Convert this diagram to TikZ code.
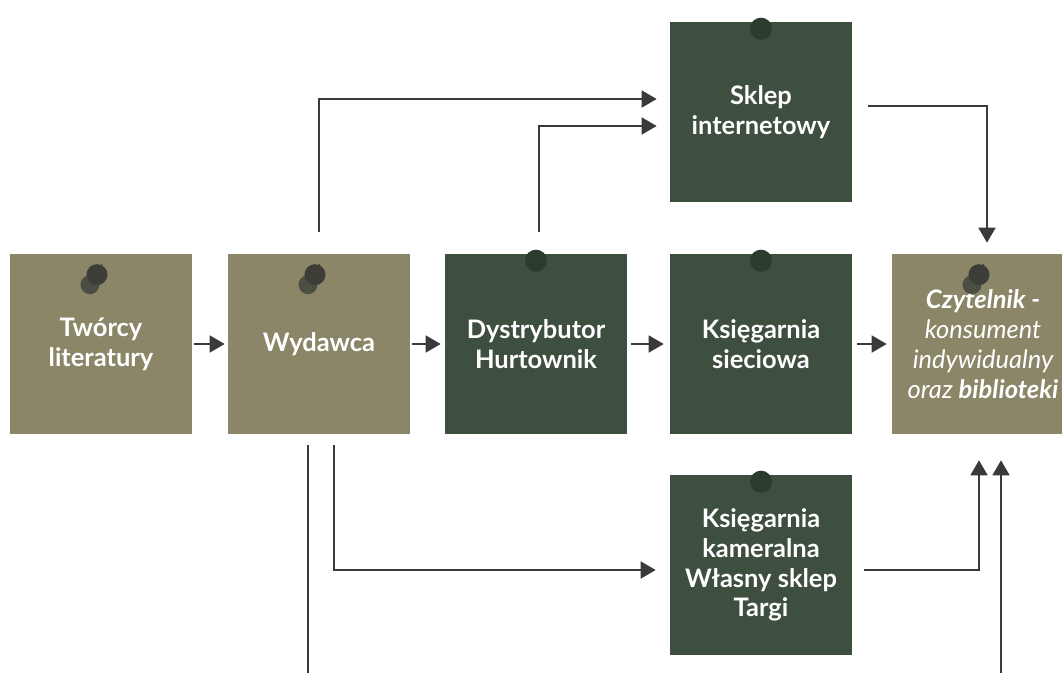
\documentclass[tikz,border=0pt]{standalone}
\usepackage{fontspec}
\setmainfont{Lato}
\usetikzlibrary{arrows.meta}
\definecolor{noteolive}{RGB}{139,134,104}
\definecolor{notegreen}{RGB}{63,79,63}
\definecolor{tackgreen}{RGB}{45,58,46}
\definecolor{pinhead}{RGB}{60,62,55}
\definecolor{pinbase}{RGB}{76,78,68}
\definecolor{linkgray}{RGB}{58,58,58}
\begin{document}
\begin{tikzpicture}[x=0.02cm,y=-0.02cm,
    note/.style={rectangle, minimum width=3.64cm, minimum height=3.6cm, inner sep=0pt, text=white, align=center, font=\fontsize{14.5}{17}\selectfont\bfseries},
    paper/.style={note, fill=noteolive},
    board/.style={note, fill=notegreen},
    wire/.style={draw=linkgray, line width=1pt},
    link/.style={wire, -{Triangle[length=0.3cm,width=0.34cm]}},
    pushpin/.pic={
        \fill[pinbase] (-11,31) circle [radius=0.19cm];
        \fill[pinhead] (-4,21) circle [radius=0.21cm];
        \draw[pinhead, line width=0.5pt] (-4,21) -- (1,10);
    },
    tack/.pic={
        \fill[tackgreen] (0,7) circle [radius=0.22cm];
    }]
    \useasboundingbox (0,0) rectangle (1062,673);
    \node[paper] (tworcy) at (101,344) {Twórcy\\literatury};
    \node[paper] (wydawca) at (319,344) {Wydawca};
    \node[board] (dystrybutor) at (536,344) {Dystrybutor\\Hurtownik};
    \node[board] (sieciowa) at (761,344) {Księgarnia\\sieciowa};
    \node[paper, font=\fontsize{14.5}{17}\selectfont\itshape] (czytelnik) at (983,344) {\textbf{Czytelnik -}\\konsument\\indywidualny\\oraz \textbf{biblioteki}};
    \node[board] (sklep) at (761,112) {Sklep\\internetowy};
    \node[board] (kameralna) at (761,565) {Księgarnia\\kameralna\\Własny sklep\\Targi};
    \pic at (tworcy.north) {pushpin};
    \pic at (wydawca.north) {pushpin};
    \pic at (czytelnik.north) {pushpin};
    \pic at (dystrybutor.north) {tack};
    \pic at (sieciowa.north) {tack};
    \pic at (sklep.north) {tack};
    \pic at (kameralna.north) {tack};
    \coordinate (cutL) at (308,673);
    \coordinate (cutR) at (1001,673);
    \draw[link, shorten <=0.04cm, shorten >=0.06cm] (tworcy) -- (wydawca);
    \draw[link, shorten <=0.04cm, shorten >=0.08cm] (wydawca) -- (dystrybutor);
    \draw[link, shorten <=0.08cm, shorten >=0.12cm] (dystrybutor) -- (sieciowa);
    \draw[link, shorten <=0.1cm, shorten >=0.1cm] (sieciowa) -- (czytelnik);
    \draw[link, shorten <=0.44cm, shorten >=0.26cm] (wydawca.north) |- ([yshift=0.26cm]sklep.west);
    \draw[link, shorten <=0.44cm, shorten >=0.26cm] ([xshift=0.06cm]dystrybutor.north) |- ([yshift=-0.28cm]sklep.west);
    \draw[link, shorten <=0.32cm, shorten >=0.22cm] ([yshift=0.12cm]sklep.east) -| ([xshift=0.08cm]czytelnik.north);
    \draw[link, shorten <=0.22cm, shorten >=0.28cm] ([xshift=0.3cm]wydawca.south) |- ([yshift=-0.1cm]kameralna.west);
    \draw[link, shorten <=0.24cm, shorten >=0.52cm] ([yshift=-0.1cm]kameralna.east) -| ([xshift=-0.08cm]czytelnik.south);
    \draw[wire, shorten <=0.22cm] (wydawca.south -| cutL) -- (cutL);
    \draw[link, shorten >=0.52cm] (cutR) -- (cutR |- czytelnik.south);
\end{tikzpicture}
\end{document}
